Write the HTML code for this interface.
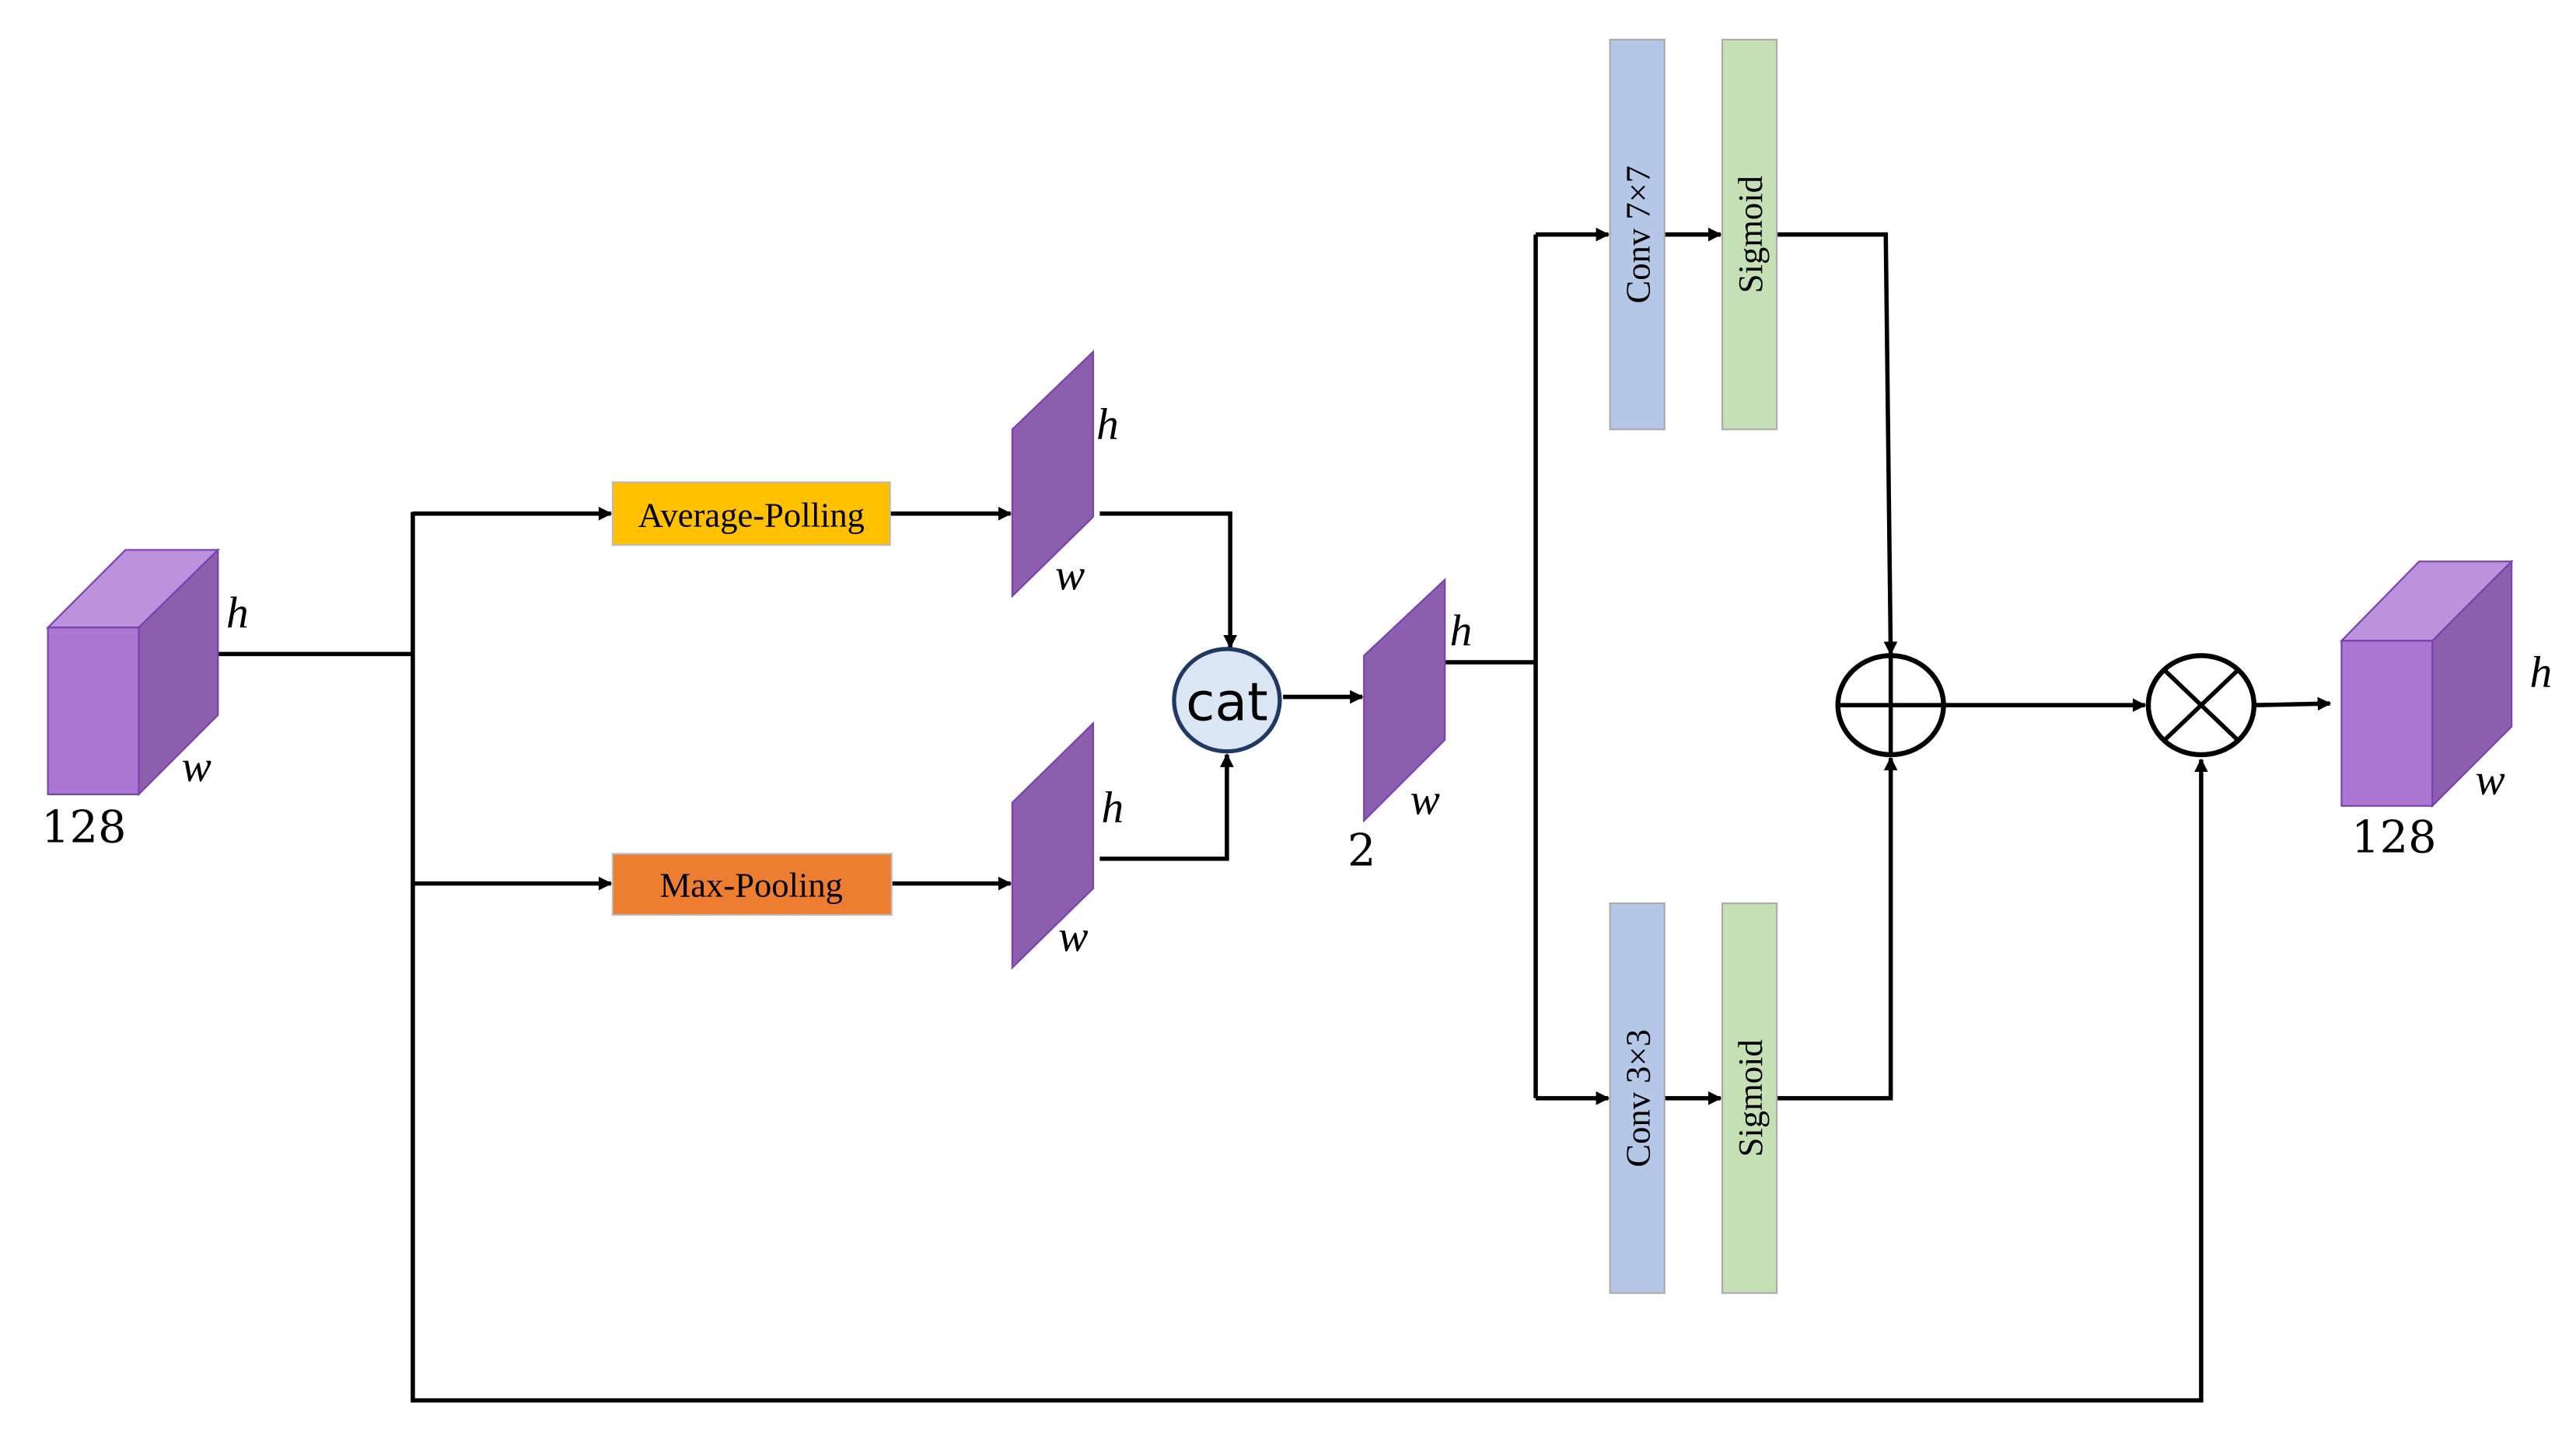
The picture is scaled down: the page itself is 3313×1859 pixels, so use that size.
<!DOCTYPE html>
<html><head><meta charset="utf-8"><style>
html,body{margin:0;padding:0;background:#fff;}
svg{display:block;}
.s{font-family:"Liberation Serif",serif;}
.i{font-family:"Liberation Serif",serif;font-style:italic;font-size:27px;}
.n{font-family:"DejaVu Serif","Liberation Serif",serif;font-size:27px;}
</style></head><body>
<svg width="3313" height="1859" viewBox="0 0 1560 875" preserveAspectRatio="none" xmlns="http://www.w3.org/2000/svg">
<defs><marker id="a" viewBox="0 0 10 10" refX="9" refY="5" markerWidth="3.2" markerHeight="3.2" orient="auto"><path d="M0,0 L10,5 L0,10 z" fill="#000"/></marker></defs>
<rect width="1560" height="875" fill="#fff"/>
<g stroke="#000" stroke-width="2.6" fill="none">
<polyline points="132,396 250,396"/>
<polyline points="250,310 250,848 1333,848 1333,460" marker-end="url(#a)"/>
<polyline points="250,311 370,311" marker-end="url(#a)"/>
<polyline points="250,535 370,535" marker-end="url(#a)"/>
<polyline points="539,311 612,311" marker-end="url(#a)"/>
<polyline points="540,535 612,535" marker-end="url(#a)"/>
<polyline points="666,311 745,311 745,392" marker-end="url(#a)"/>
<polyline points="666,520 743,520 743,457" marker-end="url(#a)"/>
<polyline points="777,422 825,422" marker-end="url(#a)"/>
<polyline points="875,401 930,401"/>
<polyline points="930,142 930,665"/>
<polyline points="930,142 974,142" marker-end="url(#a)"/>
<polyline points="930,665 974,665" marker-end="url(#a)"/>
<polyline points="1008,142 1042,142" marker-end="url(#a)"/>
<polyline points="1008,665 1042,665" marker-end="url(#a)"/>
<polyline points="1076,142 1142,142 1145,396" marker-end="url(#a)"/>
<polyline points="1076,665 1145,665 1145,459" marker-end="url(#a)"/>
<polyline points="1177,427 1299,427" marker-end="url(#a)"/>
<polyline points="1365,427 1411,426" marker-end="url(#a)"/>
</g>
<!-- left cube -->
<polygon points="29,380 76,333 132,333 84,380" fill="#bd92dc" stroke="#7a3fb0" stroke-width="1"/>
<polygon points="84,380 132,333 132,433 84,481" fill="#8b5fab" stroke="#7a3fb0" stroke-width="1"/>
<rect x="29" y="380" width="55" height="101" fill="#ab77d3" stroke="#7a3fb0" stroke-width="1"/>
<text class="i" x="137" y="380">h</text><text class="i" x="110" y="473">w</text>
<text class="n" x="25" y="510">128</text>
<!-- boxes -->
<rect x="371" y="292" width="168" height="38" fill="#ffc000" stroke="#bbb" stroke-width="1"/>
<text class="s" x="455" y="319" font-size="21" text-anchor="middle">Average-Polling</text>
<rect x="371" y="517" width="169" height="37" fill="#ed7d31" stroke="#bbb" stroke-width="1"/>
<text class="s" x="455" y="543" font-size="21" text-anchor="middle">Max-Pooling</text>
<!-- planes -->
<polygon points="613,260 662,213 662,313 613,361" fill="#8b5fad" stroke="#7a3fb0" stroke-width="1"/>
<text class="i" x="664" y="266">h</text><text class="i" x="639" y="357">w</text>
<polygon points="613,486 662,438 662,538 613,586" fill="#8b5fad" stroke="#7a3fb0" stroke-width="1"/>
<text class="i" x="667" y="498">h</text><text class="i" x="641" y="576">w</text>
<ellipse cx="743" cy="424" rx="32" ry="31" fill="#dae6f3" stroke="#203864" stroke-width="2.5"/>
<text x="743" y="436" font-family="DejaVu Sans,Liberation Sans,sans-serif" font-size="32" text-anchor="middle">cat</text>
<polygon points="826,397 875,351 875,448 826,497" fill="#8b5fad" stroke="#7a3fb0" stroke-width="1"/>
<text class="i" x="878" y="391">h</text><text class="i" x="854" y="493">w</text>
<text class="n" x="816" y="524">2</text>
<!-- conv/sigmoid -->
<rect x="975" y="24" width="33" height="236" fill="#b4c7e7" stroke="#aaa" stroke-width="1"/>
<rect x="1043" y="24" width="33" height="236" fill="#c5e0b4" stroke="#aaa" stroke-width="1"/>
<rect x="975" y="547" width="33" height="236" fill="#b4c7e7" stroke="#aaa" stroke-width="1"/>
<rect x="1043" y="547" width="33" height="236" fill="#c5e0b4" stroke="#aaa" stroke-width="1"/>
<text class="s" font-size="21" text-anchor="middle" transform="translate(999,142) rotate(-90)">Conv 7×7</text>
<text class="s" font-size="21" text-anchor="middle" transform="translate(1067,142) rotate(-90)">Sigmoid</text>
<text class="s" font-size="21" text-anchor="middle" transform="translate(999,665) rotate(-90)">Conv 3×3</text>
<text class="s" font-size="21" text-anchor="middle" transform="translate(1067,665) rotate(-90)">Sigmoid</text>
<!-- operators -->
<ellipse cx="1145" cy="427" rx="32" ry="30" fill="#fff" stroke="#000" stroke-width="3"/>
<line x1="1113" y1="427" x2="1177" y2="427" stroke="#000" stroke-width="2.6"/>
<line x1="1145" y1="397" x2="1145" y2="457" stroke="#000" stroke-width="2.6"/>
<ellipse cx="1333" cy="427" rx="32" ry="30" fill="#fff" stroke="#000" stroke-width="3"/>
<line x1="1311" y1="406" x2="1355" y2="448" stroke="#000" stroke-width="2.6"/>
<line x1="1355" y1="406" x2="1311" y2="448" stroke="#000" stroke-width="2.6"/>
<!-- right cube -->
<polygon points="1418,388 1465,340 1521,340 1473,388" fill="#bd92dc" stroke="#7a3fb0" stroke-width="1"/>
<polygon points="1473,388 1521,340 1521,440 1473,488" fill="#8b5fab" stroke="#7a3fb0" stroke-width="1"/>
<rect x="1418" y="388" width="55" height="100" fill="#ab77d3" stroke="#7a3fb0" stroke-width="1"/>
<text class="i" x="1532" y="416">h</text><text class="i" x="1499" y="481">w</text>
<text class="n" x="1424" y="516">128</text>
</svg>
</body></html>
